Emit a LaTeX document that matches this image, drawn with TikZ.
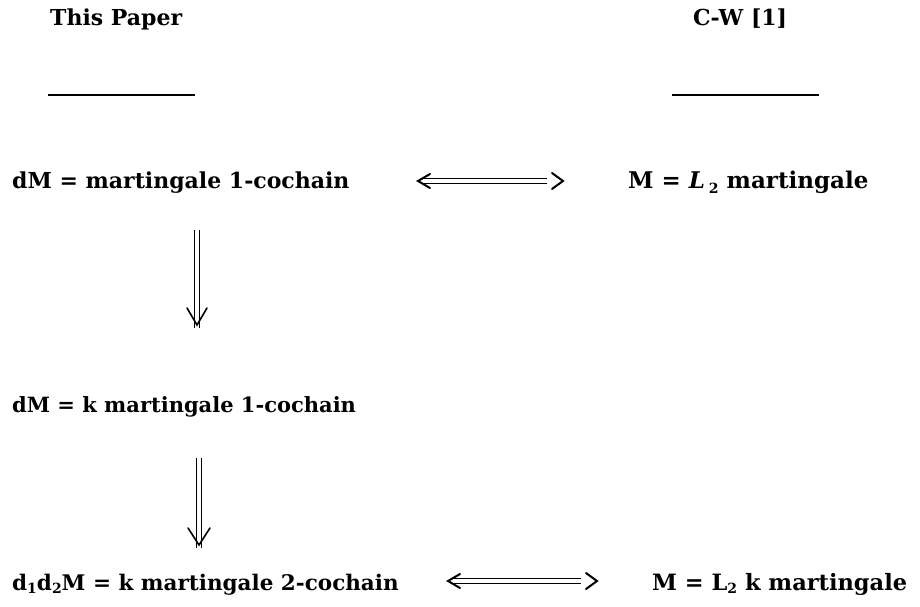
\documentclass[tikz,border=0pt]{standalone}
\usepackage{fontspec}
\setmainfont{DejaVu Serif}
\newcommand{\lowsub}[2][-5pt]{\raisebox{#1}{\fontsize{14}{14}\selectfont #2}}
\begin{document}
\begin{tikzpicture}[x=1pt,y=-1pt,
  txt/.style={inner sep=0pt, anchor=base west, font=\bfseries\fontsize{22}{26}\selectfont},
  rule/.style={line width=1.8pt},
  dbl/.style={double, double distance=3.2pt, line width=1.4pt},
  head/.style={line width=2pt, line cap=round, line join=miter}]
\useasboundingbox (0,0) rectangle (920,607);
\fill[white] (0,0) rectangle (920,607);
% headers
\node[txt] (hl) at (50,26) {This Paper};
\node[txt] (hr) at (693,26) {C-W [1]};
\draw[rule] (48,95) coordinate (ul1) -- (195,95) coordinate (ul2);
\draw[rule] (672,95) coordinate (ur1) -- (819,95) coordinate (ur2);
% rows
\node[txt] (a) at (12,188) {dM = martingale 1-cochain};
\node[txt, font=\bfseries\fontsize{23}{26}\selectfont] (b) at (628,188) {M = {\itshape L}\,\lowsub{2}\ martingale};
\node[txt, font=\bfseries\fontsize{21}{26}\selectfont] (c) at (12,412) {dM = k martingale 1-cochain};
\node[txt, font=\bfseries\fontsize{21.5}{26}\selectfont] (d) at (12,590) {d\lowsub[-3pt]{1}d\lowsub[-3pt]{2}M = k martingale 2-cochain};
\node[txt, font=\bfseries\fontsize{22.5}{26}\selectfont] (e) at (652,590) {M = L\lowsub[-3pt]{2} k martingale};
% horizontal arrow row 1
\coordinate (h1l) at (418,181);
\coordinate (h1r) at (563,181);
\draw[dbl] ([xshift=4pt]h1l) -- ([xshift=-16pt]h1r);
\draw[head] ([shift={(12,-7)}]h1l) -- (h1l) -- ([shift={(12,7)}]h1l);
\draw[head] ([shift={(-11,-8)}]h1r) -- (h1r) -- ([shift={(-11,8)}]h1r);
% horizontal arrow row 3
\coordinate (h3l) at (448,581);
\coordinate (h3r) at (597,581);
\draw[dbl] ([xshift=4pt]h3l) -- ([xshift=-16pt]h3r);
\draw[head] ([shift={(12,-7)}]h3l) -- (h3l) -- ([shift={(12,7)}]h3l);
\draw[head] ([shift={(-11,-8)}]h3r) -- (h3r) -- ([shift={(-11,8)}]h3r);
% vertical arrows
\coordinate (v1t) at (197,230);
\coordinate (v1b) at (197,325);
\draw[dbl] (v1t) -- ([yshift=-3pt]v1b);
\draw[head, line width=1.6pt] ([shift={(-10,-17)}]v1b) -- (v1b) -- ([shift={(10,-17)}]v1b);
\coordinate (v2t) at (199,458);
\coordinate (v2b) at (199,545);
\draw[dbl] (v2t) -- ([yshift=-3pt]v2b);
\draw[head, line width=1.6pt] ([shift={(-11,-17)}]v2b) -- (v2b) -- ([shift={(11,-17)}]v2b);
\end{tikzpicture}
\end{document}
